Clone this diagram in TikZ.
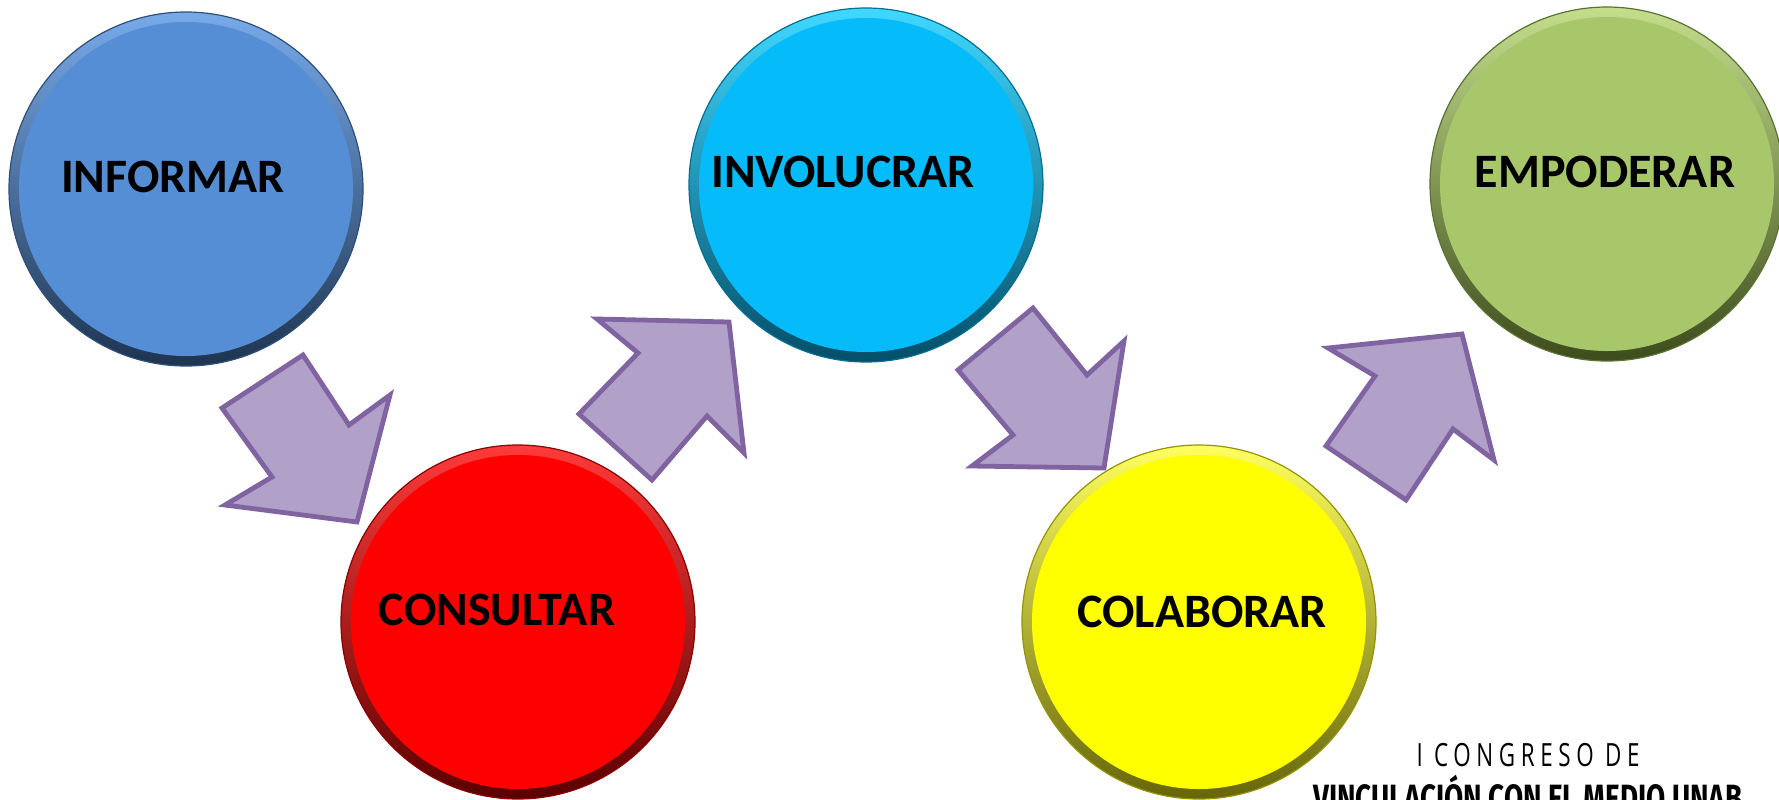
\documentclass[tikz,border=0pt]{standalone}
\usepackage{fontspec}
\usepackage{graphicx}
\setmainfont{Carlito}
\newfontfamily\congfont{Open Sans}
\newfontfamily\congbold{Fira Sans}
\definecolor{arrfill}{HTML}{B1A0C7}
\definecolor{arrline}{HTML}{8064A2}
\definecolor{blueB}{HTML}{558ED5}\definecolor{blueT}{HTML}{78AAEA}\definecolor{blueD}{HTML}{1E3450}
\definecolor{redB}{HTML}{FF0000}\definecolor{redT}{HTML}{FF3A3A}\definecolor{redD}{HTML}{5A0000}
\definecolor{cyanB}{HTML}{05BBFA}\definecolor{cyanT}{HTML}{40D8FF}\definecolor{cyanD}{HTML}{044E68}
\definecolor{yelB}{HTML}{FFFF00}\definecolor{yelT}{HTML}{FFFF60}\definecolor{yelD}{HTML}{66660A}
\definecolor{grnB}{HTML}{A8C66A}\definecolor{grnT}{HTML}{C4DE8C}\definecolor{grnD}{HTML}{3C4C1C}
\tikzset{
  ball/.style n args={3}{circle, minimum size=177pt, inner sep=0pt, shade, shading angle=35,
    top color=#2, bottom color=#3, draw=#3!70!#1, line width=0.6pt,
    path picture={\fill[#1] (path picture bounding box.center) circle (83.5pt);}},
  lbl/.style={inner sep=0pt, font=\bfseries\fontsize{24}{28}\selectfont, text=black},
  bigarrow/.style={fill=arrfill, draw=arrline, line width=2.4pt, line join=miter},
}
\begin{document}
\begin{tikzpicture}[x=0.5pt,y=-0.5pt]
\useasboundingbox[fill=white] (0,0) rectangle (1779,799);
% circles
\node[ball={blueB}{blueT}{blueD}] (c1) at (186,189) {};
\node[ball={redB}{redT}{redD}] (c2) at (518,622) {};
\node[ball={cyanB}{cyanT}{cyanD}] (c3) at (866,185) {};
\node[ball={yelB}{yelT}{yelD}] (c4) at (1199,622) {};
\node[ball={grnB}{grnT}{grnD}] (c5) at (1607,184) {};
% labels
\node[lbl] (t1) at (173,177) {INFORMAR};
\node[lbl] (t2) at (497,610) {CONSULTAR};
\node[lbl] (t3) at (843,172) {INVOLUCRAR};
\node[lbl] (t4) at (1202,612) {COLABORAR};
\node[lbl] (t5) at (1605,172) {EMPODERAR};
% arrows
\draw[bigarrow] (222,408) -- (303,355) -- (349,425) -- (390,395) -- (357,522) -- (225,505) -- (272,477) -- cycle;
\draw[bigarrow] (579,414) -- (638,353) -- (597,319) -- (729,322) -- (744,453) -- (707,416) -- (652,480) -- cycle;
\draw[bigarrow] (958,370) -- (1033,308) -- (1087,375) -- (1124,341) -- (1104,468) -- (972,466) -- (1013,435) -- cycle;
\draw[bigarrow] (1326,446) -- (1375,376) -- (1328,348) -- (1462,334) -- (1494,460) -- (1453,429) -- (1406,500) -- cycle;
% congress text
\node[inner sep=0pt, anchor=base] (k1) at (1528,766)
  {\resizebox{111.5pt}{\height}{\congfont\fontsize{16}{18}\selectfont\addfontfeatures{LetterSpace=25}I CONGRESO DE}};
\node[inner sep=0pt, anchor=base] (k2) at (1528,811)
  {\resizebox{214.5pt}{\height}{\congbold\bfseries\fontsize{19}{22}\selectfont VINCULACIÓN CON EL MEDIO UNAB}};
\end{tikzpicture}
\end{document}
